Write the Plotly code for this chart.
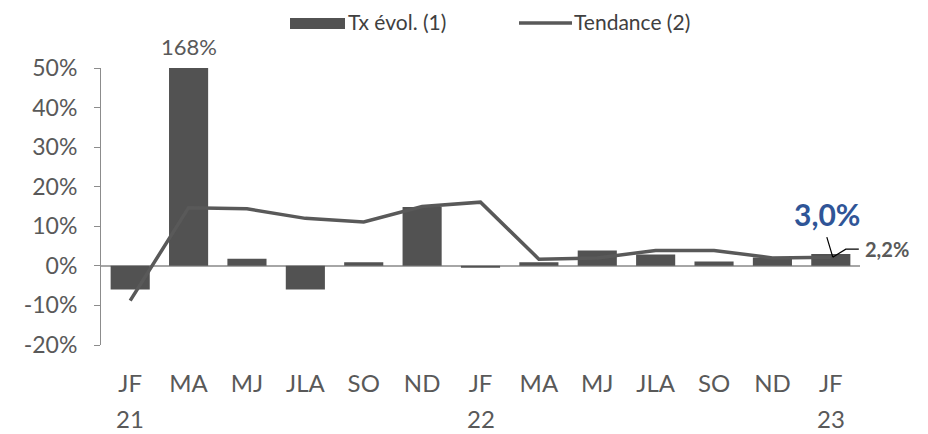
import plotly.graph_objects as go

months = ["JF", "MA", "MJ", "JLA", "SO", "ND", "JF", "MA", "MJ", "JLA", "SO", "ND", "JF"]
years = ["21", "", "", "", "", "", "22", "", "", "", "", "", "23"]
evol = [-6.0, 168.0, 1.8, -6.0, 0.9, 14.9, -0.5, 0.9, 3.9, 2.9, 1.1, 2.1, 3.0]
tendance = [-8.8, 14.7, 14.4, 12.0, 11.1, 15.0, 16.1, 1.7, 2.0, 3.9, 3.9, 2.0, 2.2]
ytick_vals = [-20, -10, 0, 10, 20, 30, 40, 50]
legend_names = ["Tx évol. (1)", "Tendance (2)"]

FONT = "Lato"
GREY_TXT = "#595959"
BAR_COL = "#525252"
LINE_COL = "#595959"
x = list(range(len(months)))

# plot area geometry (pixels) used only to place the hand-drawn legend
W, H = 928, 434
ML, MR, MT, MB = 101, 68, 68, 89
PW, PH = W - ML - MR, H - MT - MB


def px(xp):
    return (xp - ML) / PW


def py(yp):
    return (H - MB - yp) / PH


fig = go.Figure()
fig.add_trace(go.Bar(
    x=x, y=evol, name=legend_names[0], marker=dict(color=BAR_COL, line=dict(width=0)),
    width=0.67, showlegend=False, hoverinfo="skip",
))
fig.add_trace(go.Scatter(
    x=x, y=tendance, name=legend_names[1], mode="lines",
    line=dict(color=LINE_COL, width=3.5), showlegend=False, hoverinfo="skip",
))

annotations = []
# label of the clipped bar
for i, v in enumerate(evol):
    if v > ytick_vals[-1]:
        annotations.append(dict(
            x=i, y=1, xref="x", yref="paper", yanchor="bottom", yshift=6,
            text=f"{v:.0f}%", showarrow=False,
            font=dict(family=FONT, size=22, color=GREY_TXT),
        ))
# year labels
for i, yv in enumerate(years):
    if yv:
        annotations.append(dict(
            x=i, y=0, xref="x", yref="paper", yanchor="middle", yshift=-73,
            text=yv, showarrow=False,
            font=dict(family=FONT, size=24, color=GREY_TXT),
        ))
last = len(x) - 1
annotations.append(dict(
    x=last, y=evol[last], xref="x", yref="y", xanchor="center", yanchor="middle",
    xshift=-4, yshift=40, text=f"<b>{evol[last]:.1f}%</b>".replace(".", ","),
    showarrow=False, font=dict(family=FONT, size=30, color="#2F5597"),
))
annotations.append(dict(
    x=last, y=tendance[last], xref="x", yref="y", xanchor="left", yanchor="middle",
    xshift=32, yshift=8, text=f"<b>{tendance[last]:.1f}%</b>".replace(".", ","),
    showarrow=False, font=dict(family=FONT, size=20, color=GREY_TXT),
))
# hand-drawn legend texts
annotations.append(dict(
    x=px(346), y=py(21), xref="paper", yref="paper", xanchor="left", yanchor="middle",
    text=legend_names[0], showarrow=False, font=dict(family=FONT, size=21, color="#404040"),
))
annotations.append(dict(
    x=px(572), y=py(21), xref="paper", yref="paper", xanchor="left", yanchor="middle",
    text=legend_names[1], showarrow=False, font=dict(family=FONT, size=21, color="#404040"),
))

shapes = [
    dict(
        type="path", xref="x", yref="y", xsizemode="pixel", ysizemode="pixel",
        xanchor=last, yanchor=tendance[last],
        path="M 2,0 L -4,20 M 2,0 L 15,8 L 28,8",
        line=dict(color="black", width=1.2),
    ),
    # legend symbols
    dict(type="rect", xref="paper", yref="paper", x0=px(290), x1=px(345),
         y0=py(29), y1=py(18), fillcolor=BAR_COL, line=dict(width=0)),
    dict(type="line", xref="paper", yref="paper", x0=px(519), x1=px(572),
         y0=py(23), y1=py(23), line=dict(color=LINE_COL, width=3.5)),
]

fig.update_layout(
    width=W, height=H,
    margin=dict(l=ML, r=MR, t=MT, b=MB, autoexpand=False),
    plot_bgcolor="white", paper_bgcolor="white",
    font=dict(family=FONT, size=22, color=GREY_TXT),
    bargap=0.33,
    showlegend=False,
    hovermode=False,
    annotations=annotations,
    shapes=shapes,
    xaxis=dict(
        tickmode="array", tickvals=x, ticktext=months, range=[-0.5, len(x) - 0.5],
        showgrid=False, showline=False, zeroline=False, ticks="",
        ticklabelstandoff=22, tickfont=dict(size=24, color=GREY_TXT),
    ),
    yaxis=dict(
        range=[ytick_vals[0], ytick_vals[-1]], tickmode="array", tickvals=ytick_vals,
        ticktext=[f"{v}%" for v in ytick_vals],
        showgrid=False, showline=True, linecolor="#8C8C8C", linewidth=1,
        ticks="outside", ticklen=6, tickcolor="#8C8C8C",
        zeroline=True, zerolinecolor="#A6A6A6", zerolinewidth=1.5,
        ticklabelstandoff=12, tickfont=dict(size=23, color=GREY_TXT),
    ),
)

fig.write_html(
    "out.html",
    config={"displayModeBar": False, "staticPlot": True},
    post_script="document.body.style.margin='0';document.body.style.overflow='hidden';",
)
